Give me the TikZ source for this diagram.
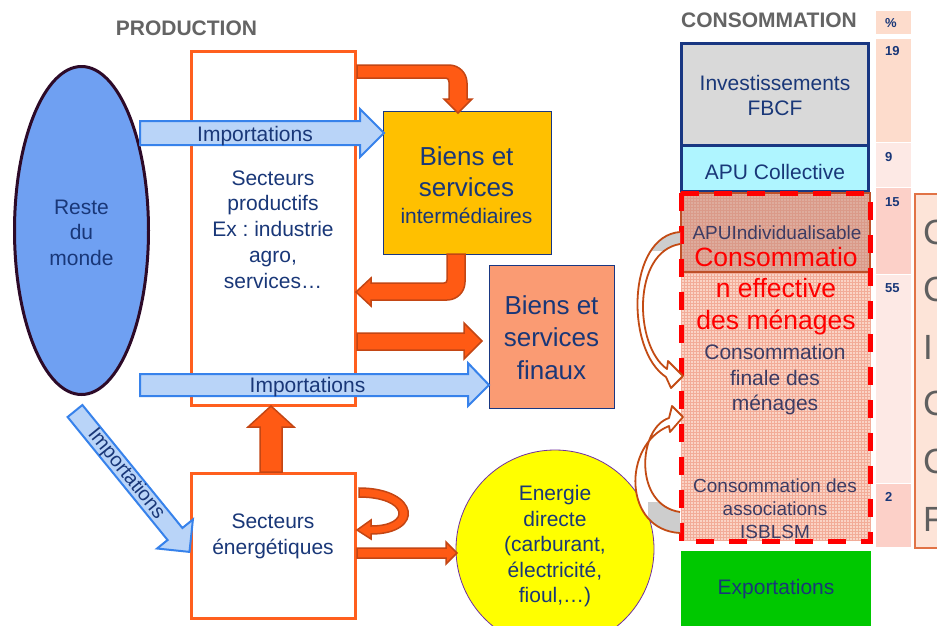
\documentclass[tikz,border=0pt]{standalone}
\usepackage{fontspec}
\setmainfont{Liberation Sans}
\usetikzlibrary{shapes.geometric}
\frenchspacing
\definecolor{navy}{RGB}{25,55,120}
\definecolor{txtgray}{RGB}{60,60,100}
\definecolor{titlegray}{RGB}{100,100,100}
\definecolor{ellfill}{RGB}{111,160,242}
\definecolor{elldraw}{RGB}{45,10,40}
\definecolor{prodora}{RGB}{255,95,30}
\definecolor{orafill}{RGB}{255,90,20}
\definecolor{oradraw}{RGB}{195,70,20}
\definecolor{blufill}{RGB}{185,212,248}
\definecolor{bludraw}{RGB}{55,130,235}
\definecolor{gold}{RGB}{255,192,0}
\definecolor{salmon}{RGB}{250,155,115}
\definecolor{boxnavy}{RGB}{25,55,130}
\definecolor{lgray}{RGB}{217,217,217}
\definecolor{lcyan}{RGB}{175,245,255}
\definecolor{egreen}{RGB}{0,200,0}
\definecolor{yel}{RGB}{255,255,0}
\definecolor{purp}{RGB}{112,48,160}
\definecolor{confill}{RGB}{250,212,198}
\definecolor{congrid}{RGB}{242,172,152}
\definecolor{apufill}{RGB}{200,140,125}
\definecolor{apudraw}{RGB}{190,80,40}
\definecolor{cbrown}{RGB}{195,75,20}
\definecolor{cellA}{RGB}{253,220,204}
\definecolor{cellB}{RGB}{253,233,229}
\definecolor{cellC}{RGB}{252,208,200}
\definecolor{sidefill}{RGB}{253,228,216}
\definecolor{sidedraw}{RGB}{225,115,70}
\definecolor{lettergray}{RGB}{95,95,95}
\definecolor{curvegray}{RGB}{205,205,205}
\newcommand\fsz[2]{\fontsize{#1}{#2}\selectfont}
\begin{document}
\begin{tikzpicture}[x=1pt,y=-1pt,
  box/.style={rectangle, inner sep=0pt, outer sep=0pt},
  txt/.style={text=navy, align=center, inner sep=0pt, font=\fsz{21}{25.5}},
  oarrow/.style={fill=orafill, draw=oradraw, line width=1.5pt, line join=miter},
  barrow/.style={fill=blufill, draw=bludraw, line width=2pt, line join=miter},
  carrow/.style={draw=cbrown, line width=1.8pt, line join=round},
  pct/.style={font=\bfseries\fsz{13}{15}, text=navy, anchor=north west, inner sep=0pt},
  letter/.style={font=\fsz{35}{40}, text=lettergray, anchor=west, inner sep=0pt}]
\useasboundingbox (0,0) rectangle (937,625);
\clip (0,0) rectangle (937,625);
\fill[white] (0,0) rectangle (937,625);

% titles
\node[font=\bfseries\fsz{21}{25}, text=titlegray, inner sep=0pt] (tprod) at (186.5,28.5) {PRODUCTION};
\node[font=\bfseries\fsz{21}{25}, text=titlegray, inner sep=0pt] (tcons) at (769,20.5) {CONSOMMATION};

% production side
\node[box, draw=prodora, line width=3pt, fill=white, minimum width=164pt, minimum height=354pt] (prod) at (273.5,228.5) {};
\node[box, draw=prodora, line width=3pt, fill=white, minimum width=164pt, minimum height=145pt] (ener) at (273.5,546) {};
\node[ellipse, draw=elldraw, line width=3pt, fill=ellfill, minimum width=134pt, minimum height=328pt, inner sep=0pt] (rdm) at (81.5,230.5) {};
\node[box, draw=boxnavy, line width=1pt, fill=gold, minimum width=168pt, minimum height=143pt] (inter) at (467,182.5) {};
\node[box, draw=boxnavy, line width=1pt, fill=salmon, minimum width=125pt, minimum height=143pt] (fin) at (551.5,336.5) {};
\node[circle, draw=purp, line width=0.8pt, fill=yel, minimum size=198pt, inner sep=0pt] (edir) at (555,549) {};

% consumption column
\node[box, draw=boxnavy, line width=3pt, fill=lgray, minimum width=187pt, minimum height=102pt] (inv) at (775,94.5) {};
\node[box, draw=boxnavy, line width=3pt, fill=lcyan, minimum width=187pt, minimum height=46pt] (apuc) at (775,168.5) {};
\node[box, fill=confill, minimum width=189pt, minimum height=348pt] (conso) at (775.5,367) {};
\draw[congrid, line width=0.3pt, step=3pt] (conso.south west) grid (conso.north east);
\node[box, fill=apufill, fill opacity=0.55, draw=apudraw, line width=1.5pt, minimum width=189pt, minimum height=79pt] (apui) at (775.5,232.5) {};
\draw[red, line width=5pt, dash pattern=on 18pt off 15pt] (conso.north west) rectangle (conso.south east);
\node[box, fill=egreen, minimum width=190pt, minimum height=79pt] (exp) at (776,590.5) {};

% percentage cells
\node[box, fill=cellA, minimum width=35pt, minimum height=23pt] (cpct) at (893.5,22.5) {};
\node[box, fill=cellA, minimum width=35pt, minimum height=103pt] (c19) at (893.5,90.5) {};
\node[box, fill=cellB, minimum width=35pt, minimum height=44pt] (c9) at (893.5,165) {};
\node[box, fill=cellC, minimum width=35pt, minimum height=86pt] (c15) at (893.5,231) {};
\node[box, fill=cellB, minimum width=35pt, minimum height=208pt] (c55) at (893.5,379) {};
\node[box, fill=cellC, minimum width=35pt, minimum height=63pt] (c2) at (893.5,515.5) {};
\node[pct, anchor=west] (lpct) at (885,23.5) {\%};
\node[pct] (l19) at (885,46.5) {19};
\node[pct] (l9) at (885,152) {9};
\node[pct] (l15) at (885,197) {15};
\node[pct] (l55) at (885,283) {55};
\node[pct] (l2) at (885,492) {2};

% right partial box
\node[box, fill=sidefill, draw=sidedraw, line width=1.5pt, minimum width=40pt, minimum height=354pt, anchor=north west] (side) at (914.75,193.75) {};
\node[letter] (s1) at (923,232) {C};
\node[letter] (s2) at (923,289) {C};
\node[letter] (s3) at (923,347) {I};
\node[letter] (s4) at (923,403) {C};
\node[letter] (s5) at (923,461) {C};
\node[letter] (s6) at (923,519) {F};

% blue import arrows
\draw[barrow] (140,121) -- (360,121) -- (360,109) -- (384,133) -- (360,157) -- (360,145) -- (140,145) -- cycle;
\draw[barrow] (140,374) -- (468,374) -- (468,363) -- (489,385) -- (468,406) -- (468,396) -- (140,396) -- cycle;
\draw[barrow] (82.4,405) -- (182.4,528) -- (192.9,519.5) -- (189.5,551.9) -- (157.1,548.5) -- (167.6,540) -- (67.6,417) -- cycle;

% orange arrows
\draw[oarrow] (357,65) -- (449,65) .. controls (459,65) and (467,73) .. (467,83) -- (467,99) -- (472,99) -- (458,113) -- (444,99) -- (449,99) -- (449,82) .. controls (449,80) and (448,78) .. (446,78) -- (357,78) -- cycle;
\draw[oarrow] (447,254) -- (465,254) -- (465,282) .. controls (465,292) and (457,300) .. (447,300) -- (371,300) -- (371,306) -- (356,292) -- (371,278) -- (371,283) -- (444,283) .. controls (446,283) and (447,282) .. (447,280) -- cycle;
\draw[oarrow] (357,333) -- (464,333) -- (464,323) -- (482,341) -- (464,359) -- (464,350) -- (357,350) -- cycle;
\draw[oarrow] (260,472) -- (260,427) -- (248,427) -- (271,406) -- (294,427) -- (282,427) -- (282,472) -- cycle;
\draw[oarrow] (359,488) .. controls (420,488) and (425,534) .. (371,534) -- (371,539) -- (357,530) -- (371,520) -- (371,526) .. controls (412,526) and (408,497) .. (359,497) -- cycle;
\draw[oarrow] (357,548) -- (446,548) -- (446,542) -- (457,553) -- (446,564) -- (446,558) -- (357,558) -- cycle;

% curved arrows into household consumption
\begin{scope}
\path[fill=white] (680,232) .. controls (627,236) and (625,350) .. (666,377) -- (671,388) -- (683,376) -- (668,361) -- (667,369) .. controls (634,346) and (632,252) .. (680,244) -- cycle;
\clip (680,232) .. controls (627,236) and (625,350) .. (666,377) -- (671,388) -- (683,376) -- (668,361) -- (667,369) .. controls (634,346) and (632,252) .. (680,244) -- cycle;
\fill[curvegray] (646,225) rectangle (681,251);
\end{scope}
\draw[carrow] (680,232) .. controls (627,236) and (625,350) .. (666,377) -- (671,388) -- (683,376) -- (668,361) -- (667,369) .. controls (634,346) and (632,252) .. (680,244);
\begin{scope}
\path[fill=white] (680,533) .. controls (623,530) and (622,445) .. (669,426) -- (670,432) -- (683,417) -- (672,406) -- (669,418) .. controls (638,428) and (633,505) .. (680,512) -- cycle;
\clip (680,533) .. controls (623,530) and (622,445) .. (669,426) -- (670,432) -- (683,417) -- (672,406) -- (669,418) .. controls (638,428) and (633,505) .. (680,512) -- cycle;
\fill[curvegray] (648,502) rectangle (681,540);
\end{scope}
\draw[carrow] (680,533) .. controls (623,530) and (622,445) .. (669,426) -- (670,432) -- (683,417) -- (672,406) -- (669,418) .. controls (638,428) and (633,505) .. (680,512);

% texts
\node[txt] (trdm) at (81.5,232.5) {Reste\\du\\monde};
\node[txt, font=\fsz{21}{25.75}] (tprodtxt) at (273,229.5) {Secteurs\\productifs\\Ex : industrie\\agro,\\services…};
\node[txt, font=\fsz{21}{26}] (tener) at (273,536) {Secteurs\\énergétiques};
\node[txt, font=\fsz{26}{31}] (tinter1) at (466.5,171.6) {Biens et\\services};
\node[txt, font=\fsz{21}{25}] (tinter2) at (466.5,216) {intermédiaires};
\node[txt, font=\fsz{26}{32.5}] (tfin) at (551.5,337.6) {Biens et\\services\\finaux};
\node[txt, font=\fsz{21}{25.5}] (tedir) at (555,546.3) {Energie\\directe\\(carburant,\\électricité,\\fioul,…)};
\node[txt, anchor=base] (timp1) at (255,141) {Importations};
\node[txt, anchor=base] (timp2) at (307.5,392.5) {Importations};
\node[txt, font=\fsz{20}{24}, rotate=-51] (timp3) at (126,474) {Importations};
\node[txt, font=\fsz{21}{25}] (tinv) at (775,95.6) {Investissements\\FBCF};
\node[txt] (tapuc) at (775,172) {APU Collective};
\node[txt, text=txtgray, font=\fsz{19}{23}] (tapui) at (777,233) {APUIndividualisable};
\node[txt, text=red, font=\fsz{26.5}{31.5}] (tcef) at (776,291) {Consommatio\\n effective\\des ménages};
\node[txt, text=txtgray] (tcfm) at (775,379.7) {Consommation\\finale des\\ménages};
\node[txt, text=txtgray, font=\fsz{19}{23}] (tisb) at (775,509) {Consommation des\\associations\\ISBLSM};
\node[txt] (texp) at (776,589) {Exportations};
\end{tikzpicture}
\end{document}
